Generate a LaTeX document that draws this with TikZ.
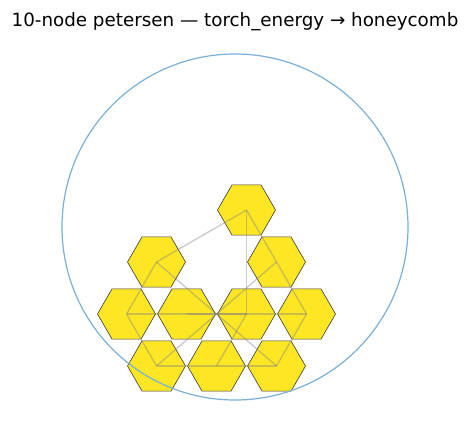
\documentclass[tikz,border=0pt]{standalone}
\usepackage{fontspec}
\setmainfont{DejaVu Sans}
\definecolor{hexfill}{HTML}{FDE725}
\definecolor{hexedge}{HTML}{3A3A3A}
\definecolor{ringblue}{HTML}{7AAFD6}
\tikzset{
  hexcell/.style={fill=hexfill, draw=hexedge, line width=0.6pt, line join=miter},
  graphedge/.style={draw=gray, draw opacity=0.4, line width=1.4pt},
  ring/.style={draw=ringblue, line width=1.2pt},
  titletext/.style={font=\fontsize{18.3}{22}\selectfont, anchor=base}
}
\begin{document}
\begin{tikzpicture}[x=1pt,y=-1pt]
\useasboundingbox (0,0) rectangle (470,429);
\node[titletext] (title) at (235,26) {10-node petersen — torch\_energy → honeycomb};
\coordinate (A) at (246.5,210);
\coordinate (B) at (156.5,262);
\coordinate (C) at (276.5,262);
\coordinate (D) at (126.5,314);
\coordinate (E) at (186.5,314);
\coordinate (F) at (246.5,314);
\coordinate (G) at (306.5,314);
\coordinate (H) at (156.5,366);
\coordinate (I) at (216.5,366);
\coordinate (J) at (276.5,366);
\foreach \n in {A,B,C,D,E,F,G,H,I,J}
  \draw[hexcell] (\n) +(0:29) -- +(60:29) -- +(120:29) -- +(180:29) -- +(240:29) -- +(300:29) -- cycle;
\foreach \u/\v in {A/B,A/C,A/F,B/D,B/J,C/G,C/H,D/H,D/E,E/F,E/G,F/I,G/J,H/I,I/J}
  \draw[graphedge] (\u) -- (\v);
\node[ring, circle, minimum size=346pt, inner sep=0pt] (ringc) at (235,227) {};
\end{tikzpicture}
\end{document}
